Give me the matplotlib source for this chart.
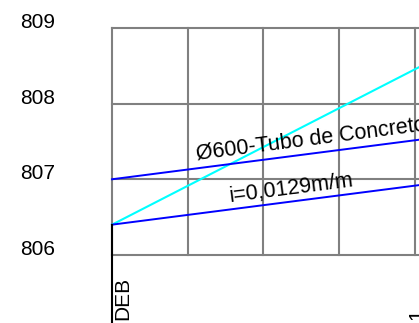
import numpy as np
import matplotlib
matplotlib.use("Agg")
import matplotlib.pyplot as plt

plt.rcParams['font.family'] = ['Liberation Sans', 'DejaVu Sans']

# elevations (m) shown on the left, grid stations (m)
levels = [806, 807, 808, 809]
stations = [0, 10, 20, 30, 40]

# pipe (invert and crown) and terrain profile, distance in m
pipe_x = [0, 45]
invert = [806.40, 806.98]
crown = [807.00, 807.58]
terrain_x = [0, 45]
terrain = [806.40, 808.71]
slope = 0.0129

node_names = ['DEB', '1']
node_x = [0.13, 38.97]

fig = plt.figure(figsize=(4.19, 3.23), dpi=100)
ax = fig.add_axes([0, 0, 1, 1])
ax.set_xlim(-14.80, 40.55)
ax.set_ylim(805.10, 809.37)
ax.axis('off')

grey = '#808080'
for lv in levels:
    ax.plot([0, 60], [lv, lv], color=grey, lw=1.5, zorder=1)
    ax.text(-12.1, lv, str(lv), fontsize=15, ha='left', va='baseline')
for st in stations:
    ax.plot([st, st], [levels[0], levels[-1]], color=grey, lw=1.5, zorder=1)

ax.plot(terrain_x, terrain, color='#00ffff', lw=1.5, zorder=3)
ax.plot(pipe_x, invert, color='#0000ff', lw=1.4, zorder=4)
ax.plot(pipe_x, crown, color='#0000ff', lw=1.4, zorder=4)

# vertical line at the first node
ax.plot([0, 0], [invert[0], 804.5], color='black', lw=1.5, zorder=5)

ang = np.degrees(np.arctan(slope))
ax.text(11.23, 807.255, 'Ø600-Tubo de Concreto', fontsize=15.5, rotation=ang,
        transform_rotates_text=True, rotation_mode='anchor',
        ha='left', va='baseline', zorder=6)
ax.text(15.59, 806.70, 'i=0,0129m/m', fontsize=15.5, rotation=ang,
        transform_rotates_text=True, rotation_mode='anchor',
        ha='left', va='baseline', zorder=6)

for name, nx in zip(node_names, node_x):
    ax.text(nx, 805.14, name, fontsize=15, rotation=90, rotation_mode='anchor',
            ha='left', va='top')

fig.savefig('out.png', dpi=100)
